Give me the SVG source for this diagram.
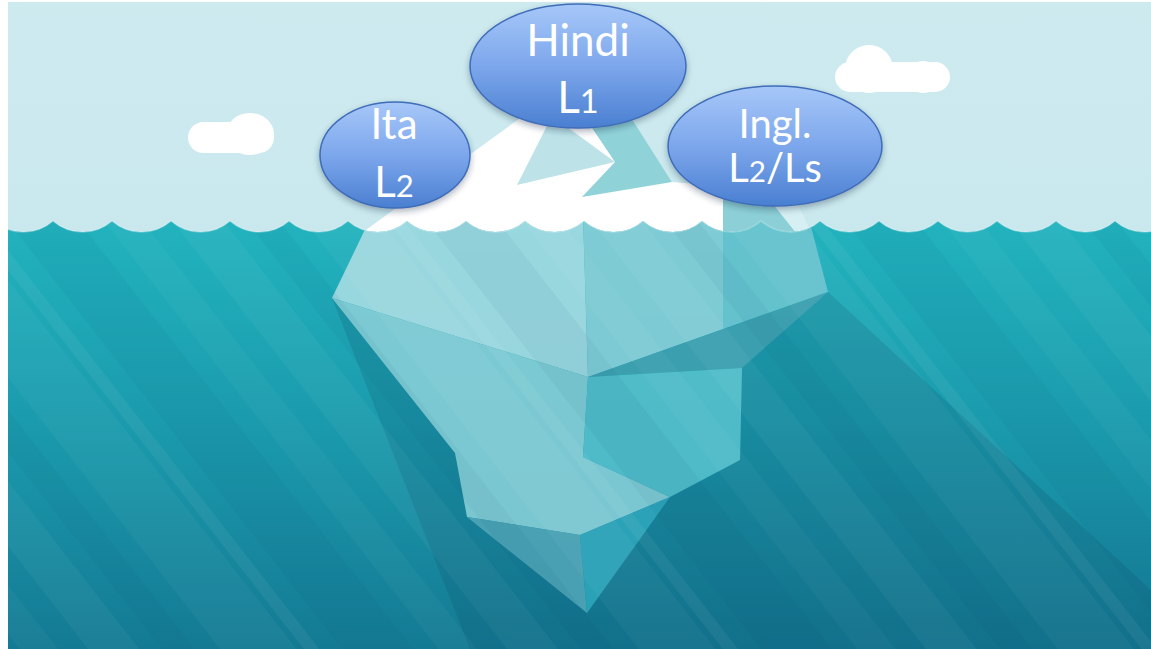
<svg xmlns="http://www.w3.org/2000/svg" width="1151" height="649" viewBox="0 0 1151 649">
  <defs>
    <linearGradient id="sky" x1="0" y1="0" x2="0" y2="1">
      <stop offset="0" stop-color="#cdeaef"/>
      <stop offset="1" stop-color="#c9e8ed"/>
    </linearGradient>
    <linearGradient id="sea" x1="0" y1="220" x2="0" y2="649" gradientUnits="userSpaceOnUse">
      <stop offset="0" stop-color="#22b3be"/>
      <stop offset="0.45" stop-color="#1b9cae"/>
      <stop offset="1" stop-color="#147a94"/>
    </linearGradient>
    <linearGradient id="bubble" x1="0" y1="0" x2="0" y2="1">
      <stop offset="0" stop-color="#a6c7f8"/>
      <stop offset="0.5" stop-color="#7da7ec"/>
      <stop offset="1" stop-color="#4a7fd1"/>
    </linearGradient>
    <pattern id="rays" width="330" height="20" patternUnits="userSpaceOnUse" patternTransform="rotate(-38)">
      <rect x="0" y="0" width="40" height="20" fill="#ffffff" fill-opacity="0.04"/>
      <rect x="58" y="0" width="26" height="20" fill="#003a5a" fill-opacity="0.05"/>
      <rect x="104" y="0" width="60" height="20" fill="#ffffff" fill-opacity="0.035"/>
      <rect x="170" y="0" width="12" height="20" fill="#ffffff" fill-opacity="0.05"/>
      <rect x="200" y="0" width="56" height="20" fill="#003a5a" fill-opacity="0.05"/>
      <rect x="276" y="0" width="30" height="20" fill="#ffffff" fill-opacity="0.03"/>
    </pattern>
    <clipPath id="frame">
      <rect x="8" y="2" width="1143" height="647"/>
    </clipPath>
    <clipPath id="below">
      <path d="M-6,221 A45 45 0 0 0 53,221 A45 45 0 0 0 112,221 A45 45 0 0 0 171,221 A45 45 0 0 0 230,221 A45 45 0 0 0 289,221 A45 45 0 0 0 348,221 A45 45 0 0 0 407,221 A45 45 0 0 0 466,221 A45 45 0 0 0 525,221 A45 45 0 0 0 584,221 A45 45 0 0 0 643,221 A45 45 0 0 0 702,221 A45 45 0 0 0 761,221 A45 45 0 0 0 820,221 A45 45 0 0 0 879,221 A45 45 0 0 0 938,221 A45 45 0 0 0 997,221 A45 45 0 0 0 1056,221 A45 45 0 0 0 1115,221 A45 45 0 0 0 1174,221 L1174,660 L-6,660 Z"/>
    </clipPath>
    <filter id="shade" x="-20%" y="-20%" width="140%" height="150%">
      <feDropShadow dx="0" dy="3" stdDeviation="3" flood-color="#1b2a40" flood-opacity="0.35"/>
    </filter>
    <style>
      .cloud { fill: #ffffff; }
      .node ellipse { fill: url(#bubble); stroke: #3f6db8; stroke-width: 1.5; filter: url(#shade); }
      .node text { fill: #ffffff; font-family: Lato, "Open Sans", "Liberation Sans", sans-serif; text-anchor: middle; }
      .fig { font-size: 0.74em; }
    </style>
  </defs>

  <rect width="1151" height="649" fill="#ffffff"/>

  <g clip-path="url(#frame)">
    <!-- sky -->
    <rect x="0" y="0" width="1151" height="260" fill="url(#sky)"/>

    <!-- clouds -->
    <g id="cloud-left">
      <rect class="cloud" x="188" y="122" width="86" height="31" rx="15.5"/>
      <ellipse class="cloud" cx="250" cy="134" rx="24" ry="21"/>
    </g>
    <g id="cloud-right">
      <rect class="cloud" x="835" y="62" width="115" height="30" rx="15"/>
      <circle class="cloud" cx="869" cy="69" r="24"/>
      <circle class="cloud" cx="923" cy="77" r="16"/>
    </g>

    <!-- iceberg tip above the waterline -->
    <g id="iceberg-tip">
      <path d="M352,240 L545,100 L625,108 L672,182 L720,186 L770,188 L812,240 Z" fill="#ffffff"/>
      <path d="M517,185 L552,116 L615,162 Z" fill="#bde3e8"/>
      <path d="M580,110 L615,162 L582,197 L672,182 L625,108 Z" fill="#8fd2d8"/>
      <path d="M723,190 L762,190 L802,240 L723,240 Z" fill="#8ccfd6"/>
      <path d="M762,190 L790,188 L815,240 L802,240 Z" fill="#d6eff2"/>
    </g>

    <!-- sea with scalloped surface -->
    <g clip-path="url(#below)">
      <rect x="0" y="210" width="1151" height="450" fill="url(#sea)"/>
      <!-- shadow cast by the berg -->
      <path d="M332,298 L470,649 L600,649 L587,613 L467,517 L455,453 Z" fill="#0a3c5c" fill-opacity="0.16"/>
      <path d="M828,292 L1151,590 L1151,649 L600,649 L587,613 L670,497 L740,460 L742,367 Z" fill="#0a3c5c" fill-opacity="0.16"/>

      <!-- submerged iceberg facets -->
      <g id="iceberg-body" fill-opacity="0.9">
        <path d="M372,215 L583,215 L588,377 L332,298 Z" fill="#a6dce2"/>
        <path d="M583,215 L723,215 L723,329 L588,377 Z" fill="#88ced7"/>
        <path d="M723,215 L808,215 L828,292 L723,329 Z" fill="#6cc4cf"/>
        <path d="M588,377 L828,292 L742,368 Z" fill="#3f9fae"/>
        <path d="M332,298 L588,377 L583,457 L670,497 L580,535 L467,517 L455,453 Z" fill="#86cdd6"/>
        <path d="M588,377 L742,368 L740,460 L670,497 L583,457 Z" fill="#55bfcb"/>
        <path d="M467,517 L580,535 L587,613 Z" fill="#4fa3b5"/>
        <path d="M580,535 L670,497 L587,613 Z" fill="#2ea4b9"/>
      </g>

      <!-- light rays through the water -->
      <rect x="0" y="210" width="1151" height="450" fill="url(#rays)"/>
    </g>

    <!-- faint rim along the wave crests -->
    <path d="M-6,221 A45 45 0 0 0 53,221 A45 45 0 0 0 112,221 A45 45 0 0 0 171,221 A45 45 0 0 0 230,221 A45 45 0 0 0 289,221 A45 45 0 0 0 348,221 A45 45 0 0 0 407,221 A45 45 0 0 0 466,221 A45 45 0 0 0 525,221 A45 45 0 0 0 584,221 A45 45 0 0 0 643,221 A45 45 0 0 0 702,221 A45 45 0 0 0 761,221 A45 45 0 0 0 820,221 A45 45 0 0 0 879,221 A45 45 0 0 0 938,221 A45 45 0 0 0 997,221 A45 45 0 0 0 1056,221 A45 45 0 0 0 1115,221 A45 45 0 0 0 1174,221" fill="none" stroke="#ffffff" stroke-opacity="0.3" stroke-width="1.5"/>
  </g>

  <!-- language bubbles -->
  <g id="node-ita" class="node">
    <ellipse cx="395" cy="155" rx="75" ry="53"/>
    <text x="394" y="139" font-size="42">Ita</text>
    <text x="394" y="197" font-size="42">L<tspan class="fig">2</tspan></text>
  </g>
  <g id="node-hindi" class="node">
    <ellipse cx="578" cy="66" rx="108" ry="62"/>
    <text x="578" y="56" font-size="44">Hindi</text>
    <text x="578" y="113" font-size="44">L<tspan class="fig">1</tspan></text>
  </g>
  <g id="node-ingl" class="node">
    <ellipse cx="775" cy="146" rx="107" ry="60"/>
    <text x="775" y="138" font-size="40">Ingl.</text>
    <text x="775" y="182" font-size="40">L<tspan class="fig">2</tspan>/Ls</text>
  </g>
</svg>
